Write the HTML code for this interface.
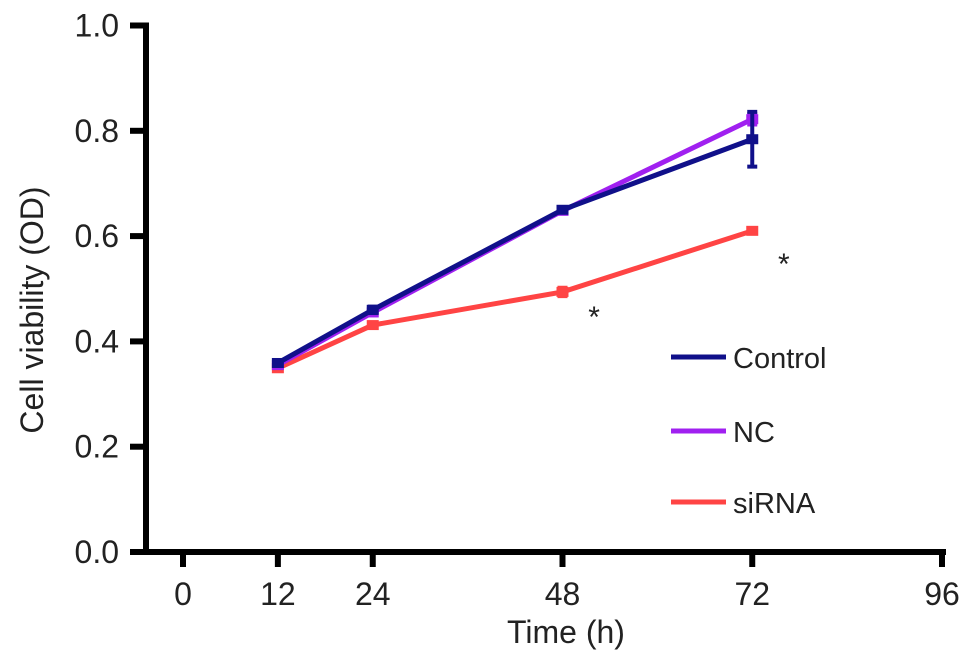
<!DOCTYPE html>
<html><head><meta charset="utf-8"><style>
body{margin:0;background:#fff}
svg text{font-family:"Liberation Sans",Arial,sans-serif;fill:#222}
</style></head><body>
<svg id="chart" width="969" height="663" viewBox="0 0 969 663" xmlns="http://www.w3.org/2000/svg">
<g id="axes"></g><g id="series"></g><g id="legend"></g>
</svg>
<script>
const xTicks=[0,12,24,48,72,96];
const yTicks=["0.0","0.2","0.4","0.6","0.8","1.0"];
const times=[12,24,48,72];
const controlVals=[0.359,0.46,0.65,0.784];
const controlErr=[0.005,0.006,0.005,0.052];
const ncVals=[0.355,0.455,0.648,0.822];
const ncErr=[0.004,0.005,0.004,0.01];
const sirnaVals=[0.349,0.431,0.494,0.61];
const sirnaErr=[0.004,0.005,0.008,0.005];
const starTimes=[52,76];
const starVals=[0.46,0.56];
const names=["Control","NC","siRNA"];
const colors=["#10108a","#a020f0","#ff4444"];

const NS="http://www.w3.org/2000/svg";
const X=t=>183+t*(942-183)/96;
const Y=v=>552-v*526.5;
function mk(tag,attrs,parent){const e=document.createElementNS(NS,tag);for(const k in attrs)e.setAttribute(k,attrs[k]);parent.appendChild(e);return e;}
const axes=document.getElementById('axes'),ser=document.getElementById('series'),leg=document.getElementById('legend');

let a=mk('line',{x1:146,y1:Y(1)-3,x2:146,y2:555,stroke:'#000','stroke-width':6},axes);

a=mk('line',{x1:143,y1:552,x2:946,y2:552,stroke:'#000','stroke-width':6},axes);

yTicks.forEach(s=>{const v=parseFloat(s);
 let t=mk('line',{x1:130,y1:Y(v),x2:146,y2:Y(v),stroke:'#000','stroke-width':6},axes);
 
 let l=mk('text',{x:119,y:Y(v)+11,'text-anchor':'end','font-size':32},axes);l.textContent=s;
 });
xTicks.forEach(v=>{
 let t=mk('line',{x1:X(v),y1:552,x2:X(v),y2:567,stroke:'#000','stroke-width':6},axes);
 
 let l=mk('text',{x:X(v),y:605,'text-anchor':'middle','font-size':32},axes);l.textContent=v;
 });
let tt=mk('text',{x:566,y:643,'text-anchor':'middle','font-size':32},axes);tt.textContent='Time (h)';

tt=mk('text',{x:0,y:0,'text-anchor':'middle','font-size':32,transform:'translate(43,310) rotate(-90)'},axes);tt.textContent='Cell  viability (OD)';


const data=[[controlVals,controlErr],[ncVals,ncErr],[sirnaVals,sirnaErr]];
[2,1,0].forEach(i=>{const [vals,err]=data[i];const c=colors[i];
 const g=mk('g',{},ser);
 
 let p=mk('polyline',{points:times.map((t,j)=>X(t)+','+Y(vals[j])).join(' '),fill:'none',stroke:c,'stroke-width':5},g);
 
 times.forEach((t,j)=>{
  let e=mk('path',{d:`M${X(t)},${Y(vals[j]+err[j])}V${Y(vals[j]-err[j])}M${X(t)-5},${Y(vals[j]+err[j])}h10M${X(t)-5},${Y(vals[j]-err[j])}h10`,stroke:c,'stroke-width':4,fill:'none'},g);
  
  let m=mk('rect',{x:X(t)-6,y:Y(vals[j])-5,width:12,height:10,fill:c},g);
  });
});
starTimes.forEach((t,j)=>{let s=mk('text',{x:X(t),y:Y(starVals[j])+17,'text-anchor':'middle','font-size':30},ser);s.textContent='*';
 });
const ly=[357,431,502];
names.forEach((n,i)=>{const g=mk('g',{},leg);
 
 mk('line',{x1:671,y1:ly[i],x2:726,y2:ly[i],stroke:colors[i],'stroke-width':5},g);
 let l=mk('text',{x:733,y:ly[i]+11,'font-size':29},g);l.textContent=n;});
</script>
</body></html>
